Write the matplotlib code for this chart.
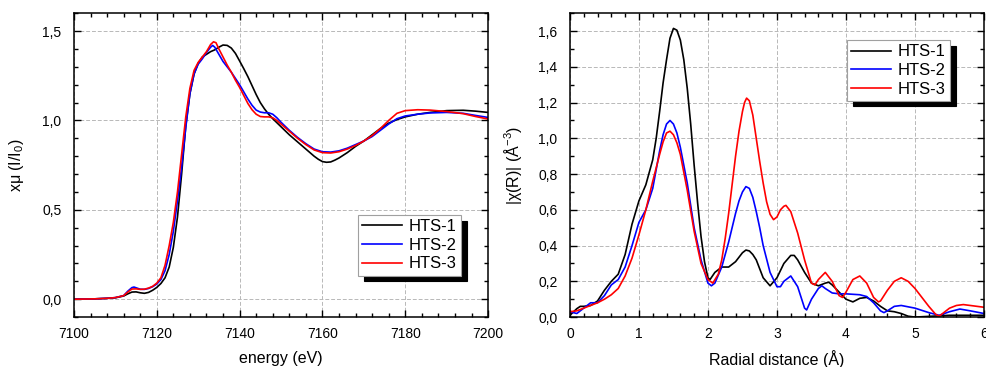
import matplotlib
matplotlib.use("Agg")
import matplotlib.pyplot as plt
from matplotlib.ticker import MultipleLocator, FuncFormatter

plt.rcParams['font.family'] = ['Liberation Sans', 'DejaVu Sans']
plt.rcParams['mathtext.default'] = 'regular'

# ---------------- XANES data (left) ----------------
e1 = [7100, 7105, 7108, 7110, 7112, 7113, 7114, 7115, 7116, 7117, 7118, 7119, 7120, 7121, 7122, 7123,
      7124, 7125, 7126, 7127, 7128, 7129, 7130, 7131, 7132, 7133, 7134, 7135, 7136, 7137, 7138, 7139,
      7140, 7141, 7142, 7143, 7144, 7145, 7146, 7147, 7148, 7150, 7152, 7154, 7156, 7158, 7159, 7160,
      7161, 7162, 7163, 7164, 7166, 7168, 7170, 7172, 7174, 7176, 7178, 7180, 7183, 7186, 7190, 7194,
      7197, 7200]
hts1_mu = [0.0, 0.002, 0.005, 0.008, 0.018, 0.03, 0.04, 0.041, 0.036, 0.033, 0.038, 0.05, 0.066, 0.088,
           0.12, 0.18, 0.29, 0.46, 0.70, 0.97, 1.15, 1.26, 1.32, 1.355, 1.37, 1.385, 1.395, 1.41, 1.422,
           1.42, 1.405, 1.375, 1.333, 1.29, 1.245, 1.195, 1.145, 1.10, 1.065, 1.035, 1.01, 0.965, 0.92,
           0.88, 0.84, 0.80, 0.783, 0.77, 0.766, 0.768, 0.778, 0.79, 0.82, 0.855, 0.885, 0.92, 0.955,
           0.985, 1.005, 1.02, 1.035, 1.045, 1.055, 1.057, 1.052, 1.045]

e2 = [7100, 7105, 7108, 7110, 7112, 7113, 7114, 7114.5, 7115, 7116, 7117, 7118, 7119, 7120, 7121, 7122,
      7123, 7124, 7125, 7126, 7127, 7128, 7129, 7130, 7131, 7132, 7133, 7133.5, 7134, 7135, 7136, 7137,
      7138, 7139, 7140, 7141, 7142, 7143, 7144, 7145, 7146, 7147, 7148, 7149, 7150, 7152, 7154, 7156,
      7158, 7160, 7162, 7164, 7166, 7168, 7170, 7172, 7174, 7176, 7178, 7180, 7183, 7186, 7190, 7194,
      7197, 7200]
hts2_mu = [0.0, 0.002, 0.005, 0.009, 0.02, 0.045, 0.065, 0.068, 0.064, 0.056, 0.055, 0.06, 0.07, 0.085,
           0.11, 0.16, 0.25, 0.38, 0.55, 0.74, 0.96, 1.15, 1.26, 1.315, 1.345, 1.38, 1.41, 1.42, 1.41,
           1.37, 1.33, 1.30, 1.27, 1.235, 1.20, 1.16, 1.12, 1.085, 1.058, 1.047, 1.043, 1.043, 1.035,
           1.015, 0.99, 0.945, 0.905, 0.87, 0.84, 0.825, 0.823, 0.83, 0.845, 0.865, 0.885, 0.91, 0.945,
           0.98, 1.01, 1.025, 1.035, 1.042, 1.045, 1.04, 1.028, 1.017]

e3 = [7100, 7105, 7108, 7110, 7112, 7113, 7114, 7115, 7116, 7117, 7118, 7119, 7120, 7121, 7122, 7123,
      7124, 7125, 7126, 7127, 7128, 7129, 7130, 7131, 7132, 7133, 7133.7, 7134.3, 7135, 7136, 7137, 7138,
      7139, 7140, 7141, 7142, 7143, 7144, 7145, 7146, 7147, 7148, 7149, 7150, 7152, 7154, 7156, 7158,
      7160, 7162, 7164, 7166, 7168, 7170, 7172, 7174, 7176, 7178, 7180, 7183, 7186, 7190, 7194, 7197,
      7200]
hts3_mu = [0.0, 0.002, 0.005, 0.009, 0.02, 0.04, 0.057, 0.058, 0.055, 0.056, 0.062, 0.072, 0.09, 0.12,
           0.19, 0.30, 0.43, 0.60, 0.81, 1.02, 1.18, 1.28, 1.325, 1.355, 1.385, 1.425, 1.44, 1.435, 1.40,
           1.355, 1.31, 1.27, 1.225, 1.185, 1.14, 1.095, 1.06, 1.035, 1.022, 1.02, 1.02, 1.015, 1.0, 0.98,
           0.94, 0.90, 0.865, 0.835, 0.82, 0.818, 0.825, 0.84, 0.86, 0.885, 0.915, 0.955, 1.0, 1.04,
           1.055, 1.06, 1.058, 1.05, 1.038, 1.022, 1.008]

# ---------------- EXAFS FT data (right) ----------------
r1 = [0.0, 0.1, 0.15, 0.2, 0.3, 0.4, 0.5, 0.6, 0.7, 0.8, 0.9, 1.0, 1.1, 1.2, 1.25, 1.3, 1.35, 1.4,
      1.45, 1.5, 1.55, 1.6, 1.65, 1.7, 1.75, 1.8, 1.85, 1.9, 1.95, 2.0, 2.03, 2.1, 2.2, 2.3, 2.4, 2.45,
      2.5, 2.55, 2.6, 2.65, 2.7, 2.8, 2.9, 3.0, 3.1, 3.2, 3.25, 3.3, 3.4, 3.5, 3.6, 3.7, 3.75, 3.8, 3.9,
      4.0, 4.1, 4.2, 4.3, 4.4, 4.5, 4.6, 4.7, 4.8, 4.9, 5.0, 5.5, 6.0]
hts1_chi = [0.01, 0.047, 0.06, 0.06, 0.065, 0.09, 0.15, 0.2, 0.24, 0.35, 0.52, 0.65, 0.74, 0.88, 1.0,
            1.15, 1.31, 1.44, 1.56, 1.615, 1.605, 1.55, 1.44, 1.28, 1.08, 0.85, 0.64, 0.45, 0.31, 0.22,
            0.21, 0.25, 0.28, 0.28, 0.31, 0.335, 0.36, 0.375, 0.37, 0.35, 0.32, 0.22, 0.175, 0.22, 0.30,
            0.345, 0.345, 0.32, 0.25, 0.19, 0.175, 0.19, 0.195, 0.18, 0.14, 0.10, 0.085, 0.105, 0.11,
            0.09, 0.06, 0.035, 0.03, 0.02, 0.005, 0.0, 0.01, 0.01]

r2 = [0.0, 0.1, 0.2, 0.3, 0.4, 0.5, 0.6, 0.7, 0.8, 0.9, 1.0, 1.1, 1.2, 1.3, 1.35, 1.4, 1.45, 1.5, 1.55,
      1.6, 1.7, 1.8, 1.9, 2.0, 2.05, 2.1, 2.2, 2.3, 2.35, 2.4, 2.45, 2.5, 2.55, 2.6, 2.65, 2.7, 2.75,
      2.8, 2.9, 3.0, 3.05, 3.1, 3.2, 3.3, 3.4, 3.43, 3.5, 3.6, 3.65, 3.7, 3.8, 3.9, 4.0, 4.2, 4.3, 4.4,
      4.5, 4.55, 4.6, 4.7, 4.8, 5.0, 5.2, 5.35, 5.5, 5.65, 5.8, 6.0]
hts2_chi = [0.03, 0.02, 0.05, 0.08, 0.08, 0.12, 0.18, 0.21, 0.28, 0.40, 0.53, 0.60, 0.72, 0.93, 1.02,
            1.08, 1.10, 1.08, 1.03, 0.95, 0.75, 0.50, 0.32, 0.19, 0.175, 0.19, 0.28, 0.42, 0.50, 0.58,
            0.65, 0.70, 0.73, 0.72, 0.67, 0.59, 0.50, 0.40, 0.25, 0.17, 0.17, 0.20, 0.23, 0.17, 0.05,
            0.04, 0.10, 0.16, 0.175, 0.16, 0.135, 0.13, 0.13, 0.125, 0.115, 0.08, 0.035, 0.025, 0.035,
            0.06, 0.065, 0.05, 0.025, 0.01, 0.03, 0.045, 0.035, 0.02]

r3 = [0.0, 0.1, 0.2, 0.3, 0.4, 0.5, 0.6, 0.7, 0.8, 0.9, 1.0, 1.1, 1.2, 1.3, 1.35, 1.4, 1.45, 1.5, 1.55,
      1.6, 1.7, 1.8, 1.9, 2.0, 2.07, 2.15, 2.2, 2.25, 2.3, 2.35, 2.4, 2.45, 2.5, 2.53, 2.56, 2.6, 2.65,
      2.7, 2.75, 2.8, 2.85, 2.9, 2.95, 3.0, 3.05, 3.1, 3.13, 3.2, 3.3, 3.4, 3.5, 3.55, 3.6, 3.7, 3.8,
      3.9, 3.95, 4.0, 4.1, 4.2, 4.3, 4.4, 4.47, 4.5, 4.6, 4.7, 4.8, 4.9, 5.0, 5.1, 5.2, 5.3, 5.35, 5.4,
      5.5, 5.6, 5.7, 5.8, 6.0]
hts3_chi = [0.03, 0.035, 0.05, 0.065, 0.08, 0.10, 0.125, 0.16, 0.23, 0.33, 0.46, 0.60, 0.76, 0.91, 0.98,
            1.03, 1.04, 1.02, 0.975, 0.91, 0.71, 0.48, 0.30, 0.21, 0.19, 0.24, 0.32, 0.44, 0.58, 0.74,
            0.90, 1.04, 1.15, 1.20, 1.225, 1.21, 1.13, 1.00, 0.87, 0.75, 0.645, 0.575, 0.545, 0.56, 0.60,
            0.62, 0.625, 0.59, 0.47, 0.32, 0.19, 0.18, 0.21, 0.25, 0.2, 0.12, 0.11, 0.14, 0.21, 0.23,
            0.19, 0.11, 0.085, 0.09, 0.15, 0.2, 0.22, 0.2, 0.16, 0.11, 0.06, 0.015, 0.005, 0.02, 0.05,
            0.065, 0.07, 0.065, 0.055]

labels = ['HTS-1', 'HTS-2', 'HTS-3']
colors = ['black', '#0000ff', '#ff0000']

fig = plt.figure(figsize=(9.86, 3.67), dpi=100)
ax1 = fig.add_axes([0.075, 0.136, 0.420, 0.828])
ax2 = fig.add_axes([0.578, 0.136, 0.420, 0.828])

comma = FuncFormatter(lambda v, p: ('%.1f' % v).replace('.', ','))
intfmt = FuncFormatter(lambda v, p: '%d' % round(v))


def style(ax):
    for s in ax.spines.values():
        s.set_linewidth(1.1)
    ax.tick_params(which='both', direction='in', top=True, right=True, labelsize=10, width=1.0)
    ax.tick_params(which='major', length=5)
    ax.tick_params(axis='x', which='major', pad=7)
    ax.tick_params(axis='y', which='major', pad=9)
    ax.tick_params(which='minor', length=3)
    ax.grid(True, which='major', color='#b8b8b8', linestyle=(0, (4, 2)), linewidth=0.7)
    ax.set_axisbelow(True)


for x, y, lab, c in zip([e1, e2, e3], [hts1_mu, hts2_mu, hts3_mu], labels, colors):
    ax1.plot(x, y, color=c, lw=1.2, label=lab)
ax1.set_xlim(7100, 7200)
ax1.set_ylim(-0.1, 1.6)
ax1.xaxis.set_major_locator(MultipleLocator(20))
ax1.xaxis.set_minor_locator(MultipleLocator(4))
ax1.yaxis.set_major_locator(MultipleLocator(0.5))
ax1.yaxis.set_minor_locator(MultipleLocator(0.1))
ax1.xaxis.set_major_formatter(intfmt)
ax1.yaxis.set_major_formatter(comma)
style(ax1)
ax1.set_xlabel('energy (eV)', fontsize=11.5, labelpad=7)
ax1.set_ylabel('xμ (I/I$_0$)', fontsize=11.5, labelpad=12)

for x, y, lab, c in zip([r1, r2, r3], [hts1_chi, hts2_chi, hts3_chi], labels, colors):
    ax2.plot(x, y, color=c, lw=1.2, label=lab)
ax2.set_xlim(0, 6)
ax2.set_ylim(0, 1.7)
ax2.xaxis.set_major_locator(MultipleLocator(1))
ax2.xaxis.set_minor_locator(MultipleLocator(0.2))
ax2.yaxis.set_major_locator(MultipleLocator(0.2))
ax2.yaxis.set_minor_locator(MultipleLocator(0.1))
ax2.xaxis.set_major_formatter(intfmt)
ax2.yaxis.set_major_formatter(comma)
style(ax2)
ax2.set_xlabel('Radial distance (Å)', fontsize=11.5, labelpad=7)
ax2.set_ylabel('|χ(R)| (Å$^{-3}$)', fontsize=11.5, labelpad=10)

shadow = {'ox': 4, 'oy': -4, 'facecolor': 'black', 'edgecolor': 'black', 'alpha': 1}
for ax, anchor in [(ax1, (0.686, 0.336)), (ax2, (0.669, 0.911))]:
    leg = ax.legend(loc='upper left', bbox_to_anchor=anchor, borderaxespad=0, fontsize=12,
                    fancybox=False, shadow=shadow, framealpha=1, edgecolor='#a0a0a0',
                    handlelength=2.4, handletextpad=0.4, labelspacing=0.22, borderpad=0.25)
    leg.get_frame().set_linewidth(0.8)
    for line in leg.get_lines():
        line.set_linewidth(1.2)

fig.savefig('out.png', dpi=100)
